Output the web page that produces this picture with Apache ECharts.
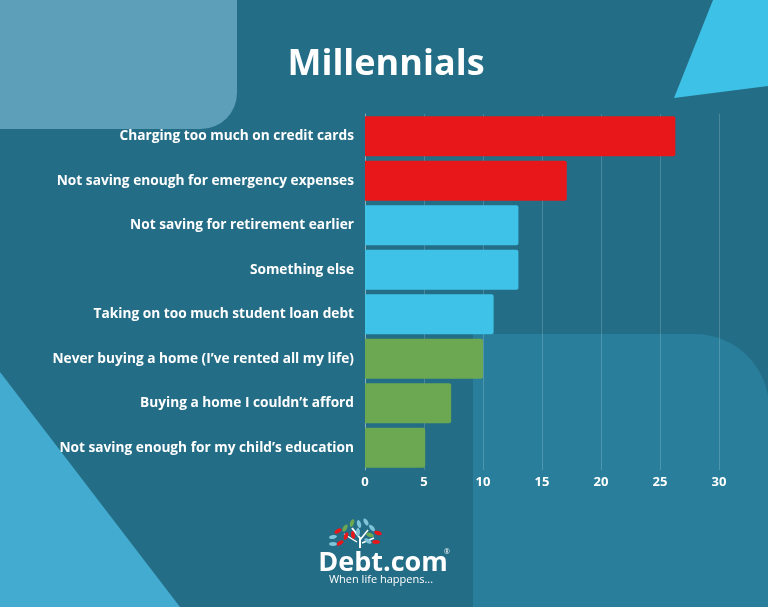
<!DOCTYPE html>
<html>
<head>
<meta charset="utf-8">
<script src="https://cdn.jsdelivr.net/npm/echarts@6/dist/echarts.min.js"></script>
<style>
html,body{margin:0;padding:0;background:#246D86;}
#chart{width:768px;height:607px;}
</style>
</head>
<body>
<div id="chart"></div>
<script>
const categories = [
  "Charging too much on credit cards",
  "Not saving enough for emergency expenses",
  "Not saving for retirement earlier",
  "Something else",
  "Taking on too much student loan debt",
  "Never buying a home (I’ve rented all my life)",
  "Buying a home I couldn’t afford",
  "Not saving enough for my child’s education"
];
const values = [26.3, 17.1, 13.0, 13.0, 10.9, 10.0, 7.3, 5.1];
const barColors = ["#E8181A", "#E8181A", "#3EC2E8", "#3EC2E8", "#3EC2E8", "#6CA852", "#6CA852", "#6CA852"];
const xTicks = [0, 5, 10, 15, 20, 25, 30];

const chart = echarts.init(document.getElementById('chart'));
const FONT = 'Open Sans';

const leaves = [
  // [x, y, rotation(deg), color]
  [352, 523, 20, '#6CA852'],
  [359, 524, -15, '#7FC4D8'],
  [366, 522, -30, '#7FC4D8'],
  [345, 528, 30, '#6CA852'],
  [338, 531, 60, '#E8181A'],
  [333, 537, 80, '#7FC4D8'],
  [346, 536, 20, '#E8181A'],
  [340, 543, 60, '#E8181A'],
  [353, 535, -10, '#E8181A'],
  [358, 532, 0, '#7FC4D8'],
  [372, 528, -40, '#7FC4D8'],
  [370, 535, -70, '#6CA852'],
  [378, 533, -70, '#E8181A'],
  [376, 542, -90, '#E8181A'],
  [368, 541, -60, '#7FC4D8'],
  [333, 544, 90, '#7FC4D8']
];

const graphicEls = [
  { type: 'rect', z: -10, shape: { x: -40, y: -40, width: 277, height: 169, r: [0, 0, 36, 0] }, style: { fill: '#5D9EB8' } },
  { type: 'polygon', z: -10, shape: { points: [[713, 0], [768, 0], [768, 86], [674, 98]] }, style: { fill: '#3EC1E7' } },
  { type: 'polygon', z: -10, shape: { points: [[0, 372], [180, 607], [0, 607]] }, style: { fill: '#43ABCF' } },
  { type: 'rect', z: -10, shape: { x: 473, y: 334, width: 296, height: 280, r: [0, 74, 0, 0] }, style: { fill: '#287E9B' } },
  // logo trunk
  { type: 'polyline', z: 10, shape: { points: [[360, 548], [360, 538], [352, 528]] }, style: { stroke: '#fff', lineWidth: 2, fill: null } },
  { type: 'polyline', z: 10, shape: { points: [[360, 540], [368, 530]] }, style: { stroke: '#fff', lineWidth: 1.6, fill: null } },
  { type: 'polyline', z: 10, shape: { points: [[357, 542], [344, 534]] }, style: { stroke: '#fff', lineWidth: 1.4, fill: null } },
  { type: 'polyline', z: 10, shape: { points: [[362, 543], [374, 538]] }, style: { stroke: '#fff', lineWidth: 1.4, fill: null } },
  { type: 'text', z: 10, style: { text: 'Debt.com', x: 383, y: 563, align: 'center', verticalAlign: 'middle', fill: '#fff', font: 'bold 27px "' + FONT + '"' } },
  { type: 'text', z: 10, style: { text: '®', x: 447, y: 552, align: 'center', verticalAlign: 'middle', fill: '#fff', font: '7px "' + FONT + '"' } },
  { type: 'text', z: 10, style: { text: 'When life happens...', x: 381, y: 580, align: 'center', verticalAlign: 'middle', fill: '#fff', font: '11px "' + FONT + '"' } }
];
leaves.forEach(l => {
  graphicEls.push({
    type: 'ellipse', z: 10, x: l[0], y: l[1], rotation: -l[2] * Math.PI / 180,
    shape: { cx: 0, cy: 0, rx: 2, ry: 4 }, style: { fill: l[3] }
  });
});

chart.setOption({
  backgroundColor: '#246D86',
  animation: false,
  title: {
    text: 'Millennials', left: 381, top: 42, textAlign: 'center',
    textStyle: { color: '#fff', fontSize: 36, fontWeight: 'bold', fontFamily: FONT }
  },
  graphic: { elements: graphicEls },
  grid: { left: 365, top: 114, width: 354, height: 356, containLabel: false },
  xAxis: {
    type: 'value', min: 0, max: 30, interval: 5,
    axisLine: { show: false }, axisTick: { show: false },
    splitLine: { show: true, lineStyle: { color: 'rgba(255,255,255,0.18)', width: 1 } },
    axisLabel: { color: '#fff', fontSize: 13, fontWeight: 'bold', fontFamily: FONT, margin: 6,
      formatter: v => xTicks.includes(v) ? String(v) : '' }
  },
  yAxis: {
    type: 'category', inverse: true, data: categories,
    axisLine: { show: true, lineStyle: { color: 'rgba(255,255,255,0.35)', width: 1 } },
    axisTick: { show: false },
    axisLabel: { color: '#fff', fontSize: 13.7, fontWeight: 'bold', fontFamily: FONT, margin: 11 }
  },
  series: [{
    type: 'bar', barWidth: 40,
    data: values.map((v, i) => ({ value: v, itemStyle: { color: barColors[i], borderRadius: [0, 2, 2, 0] } }))
  }]
});
</script>
</body>
</html>
